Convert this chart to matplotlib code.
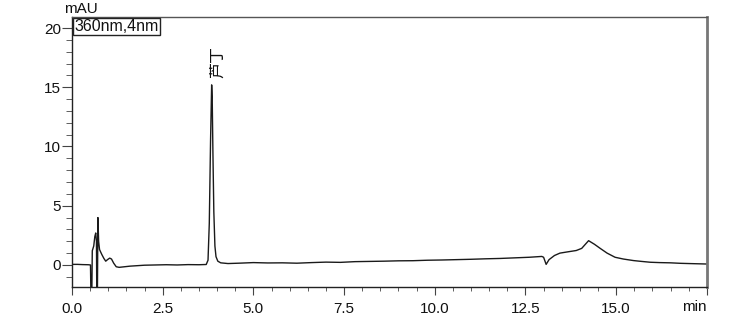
import matplotlib.pyplot as plt
from matplotlib.ticker import MultipleLocator

plt.rcParams['font.family'] = ['Liberation Sans', 'Noto Sans CJK SC', 'DejaVu Sans']

# retention time (min) and absorbance (mAU)
time = [0.00, 0.15, 0.30, 0.45, 0.51, 0.525, 0.545, 0.56, 0.60, 0.63, 0.655,
        0.675, 0.685, 0.70, 0.715, 0.735, 0.76, 0.82, 0.88, 0.93, 0.98,
        1.04, 1.09, 1.15, 1.22, 1.30, 1.45, 1.60, 1.80, 2.00, 2.30, 2.60,
        2.90, 3.20, 3.50, 3.70, 3.75, 3.785, 3.82, 3.85, 3.865, 3.885, 3.91,
        3.94, 3.97, 4.02, 4.10, 4.30, 4.60, 5.00, 5.40, 5.80, 6.20, 6.60,
        7.00, 7.40, 7.80, 8.20, 8.60, 9.00, 9.40, 9.80, 10.20, 10.60, 11.00,
        11.40, 11.80, 12.20, 12.60, 12.95, 13.00, 13.07, 13.15, 13.30, 13.45,
        13.65, 13.90, 14.05, 14.24, 14.40, 14.56, 14.75, 14.97, 15.20, 15.48,
        15.70, 15.94, 16.20, 16.50, 16.77, 17.00, 17.25, 17.50]
signal = [0.05, 0.05, 0.03, 0.02, 0.00, -3.0, -3.0, 1.2, 1.6, 2.4, 2.7,
          2.0, -3.0, -3.0, 4.0, 2.0, 1.3, 0.9, 0.55, 0.32, 0.45,
          0.58, 0.50, 0.15, -0.15, -0.20, -0.15, -0.10, -0.06, -0.02, 0.00, 0.02,
          0.00, 0.03, 0.02, 0.04, 0.40, 3.5, 10.5, 15.2, 14.2, 9.5, 4.5,
          1.6, 0.7, 0.32, 0.18, 0.12, 0.15, 0.20, 0.17, 0.18, 0.15, 0.20,
          0.24, 0.22, 0.28, 0.30, 0.32, 0.35, 0.36, 0.40, 0.42, 0.45, 0.48,
          0.52, 0.55, 0.60, 0.65, 0.72, 0.65, 0.05, 0.45, 0.80, 1.00,
          1.10, 1.22, 1.40, 2.05, 1.75, 1.40, 1.00, 0.65, 0.50, 0.37,
          0.30, 0.23, 0.20, 0.18, 0.14, 0.12, 0.10, 0.08]

peak_time = 3.85
peak_name = '芦丁'

fig = plt.figure(figsize=(7.56, 3.19), dpi=100)
ax = fig.add_axes([0.0952, 0.1003, 0.8398, 0.8464])

ax.plot(time, signal, color='#1a1a1a', linewidth=1.0)

ax.set_xlim(0, 17.5)
ax.set_ylim(-1.86, 20.93)

ax.xaxis.set_minor_locator(MultipleLocator(0.5))
ax.yaxis.set_minor_locator(MultipleLocator(1))
ax.set_xticks([0, 2.5, 5, 7.5, 10, 12.5, 15, 17.5])
ax.set_xticklabels(['0.0', '2.5', '5.0', '7.5', '10.0', '12.5', '15.0', ''])
ax.set_yticks([0, 5, 10, 15, 20])

ax.tick_params(axis='both', which='major', labelsize=11, direction='out',
               color='#444444', labelcolor='#111111')
ax.tick_params(axis='x', which='major', length=6, pad=5)
ax.tick_params(axis='x', which='minor', length=3, color='#444444')
ax.tick_params(axis='y', which='major', length=7, pad=1)
ax.tick_params(axis='y', which='minor', length=4, color='#444444')

for side in ['left', 'bottom']:
    ax.spines[side].set_color('#222222')
    ax.spines[side].set_linewidth(1.0)
ax.spines['top'].set_color('#555555')
ax.spines['top'].set_linewidth(1.0)
ax.spines['right'].set_color('#777777')
ax.spines['right'].set_linewidth(2.0)

# axis units
ax.text(-0.012, 1.005, 'mAU', transform=ax.transAxes, fontsize=11,
        ha='left', va='bottom', color='#111111')
ax.text(1.0, -0.048, 'min', transform=ax.transAxes, fontsize=11,
        ha='right', va='top', color='#111111')

# channel box
ax.text(0.004, 0.992, '360nm,4nm', transform=ax.transAxes, fontsize=11.5,
        ha='left', va='top', color='#111111',
        bbox=dict(boxstyle='square,pad=0.08', facecolor='white',
                  edgecolor='#222222', linewidth=1.0))

# peak label
ax.text(peak_time + 0.15, 15.8, peak_name, rotation=90, fontsize=11.5,
        ha='center', va='bottom', color='#111111',
        family=['Noto Sans CJK SC', 'DejaVu Sans'])

fig.savefig('out.png', dpi=100)
